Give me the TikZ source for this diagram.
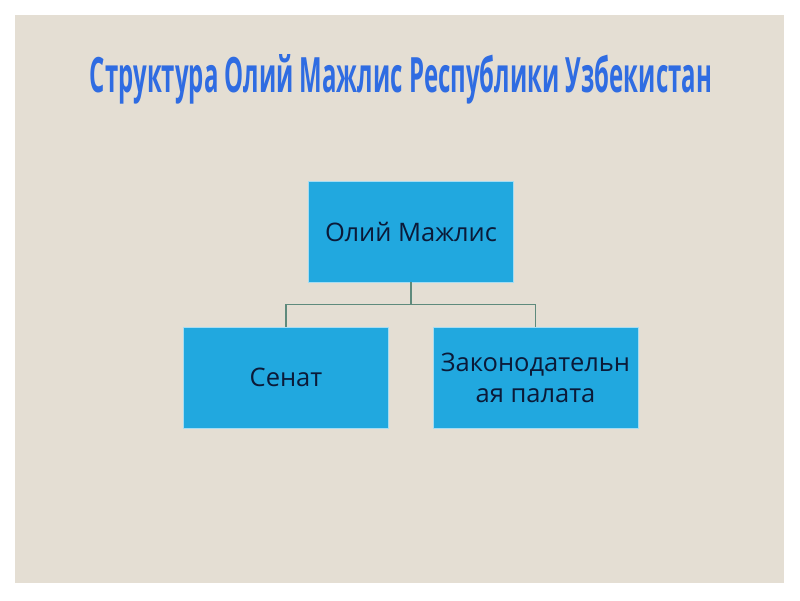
\documentclass[tikz,border=0pt]{standalone}
\usepackage{fontspec}
\setmainfont{Open Sans}
\usepackage{graphicx}
\definecolor{panel}{HTML}{E4DED3}
\definecolor{boxfill}{HTML}{21A8DF}
\definecolor{boxtext}{HTML}{0B1A38}
\definecolor{linkcol}{HTML}{5E8A7C}
\definecolor{titleblue}{HTML}{2F6CE2}
\begin{document}
\begin{tikzpicture}[x=1pt,y=-1pt,
  orgbox/.style={rectangle, fill=boxfill, draw=boxfill!40!white, line width=0.8pt,
    minimum width=205pt, minimum height=101pt, inner sep=0pt,
    text=boxtext, font=\fontsize{25.5}{31}\selectfont, align=center},
  link/.style={draw=linkcol, line width=1.6pt}]
\useasboundingbox (0,0) rectangle (800,600);
\fill[white] (0,0) rectangle (800,600);
\fill[panel] (15,15) rectangle (784,583);
\node (title) at (401,79) {\resizebox{622pt}{38pt}{\color{titleblue}\bfseries Структура Олий Мажлис Республики Узбекистан}};
\node[orgbox] (om) at (411,231.5) {Олий Мажлис};
\node[orgbox] (sen) at (286,377.5) {Сенат};
\node[orgbox] (zp) at (535.5,377.5) {Законодательн\\ая палата};
\coordinate (j) at (411,304.5);
\draw[link] (om.south) -- (j);
\draw[link] (sen.north) |- (j) -| (zp.north);
\end{tikzpicture}
\end{document}
